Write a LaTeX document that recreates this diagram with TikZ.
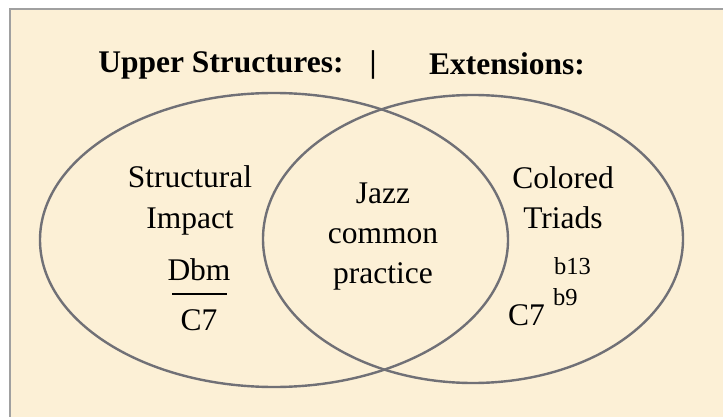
\documentclass[tikz,border=0pt]{standalone}
\usepackage{fontspec}
\setmainfont{Liberation Serif}
\definecolor{parch}{RGB}{252,240,214}
\definecolor{frame}{RGB}{160,160,160}
\definecolor{ring}{RGB}{112,112,118}
\begin{document}
\begin{tikzpicture}[x=1pt,y=-1pt,
  lbl/.style={anchor=base,inner sep=0pt,font=\fontsize{31.5}{36}\selectfont},
  head/.style={anchor=base,inner sep=0pt,font=\fontsize{31.5}{36}\selectfont\bfseries},
  sup/.style={anchor=base,inner sep=0pt,font=\fontsize{24.5}{28}\selectfont},
  ringline/.style={draw=ring,line width=2.4pt}]
\useasboundingbox (0,0) rectangle (723,417);
\fill[white] (0,0) rectangle (723,417);
\fill[parch] (10,9) rectangle (730,425);
\draw[frame,line width=2pt] (10,425) -- (10,9) -- (730,9);
% ellipses
\draw[ringline] (274,240) ellipse [x radius=234, y radius=147];
\draw[ringline] (473,239) ellipse [x radius=210, y radius=144];
% headings
\node[head] (h1) at (221,73) {Upper Structures:};
\node[head] (bar) at (373,73) {|};
\node[head] (h2) at (507,75) {Extensions:};
% left
\node[lbl] (s1) at (190,187) {Structural};
\node[lbl] (s2) at (190,228) {Impact};
\node[lbl] (dbm) at (199,280) {Dbm};
\coordinate (fl) at (172,294);
\coordinate (fr) at (227,294);
\draw[black,line width=1.3pt] (fl) -- (fr);
\node[lbl] (c7a) at (199,330) {C7};
% middle
\node[lbl] (j1) at (383,203) {Jazz};
\node[lbl] (j2) at (383,243) {common};
\node[lbl] (j3) at (383,283) {practice};
% right
\node[lbl] (r1) at (563,188) {Colored};
\node[lbl] (r2) at (563,228) {Triads};
\node[sup,anchor=base west] (b13) at (554,274) {b13};
\node[sup,anchor=base west] (b9) at (553,305) {b9};
\node[lbl,anchor=base west] (c7b) at (508,325) {C7};
\end{tikzpicture}
\end{document}
